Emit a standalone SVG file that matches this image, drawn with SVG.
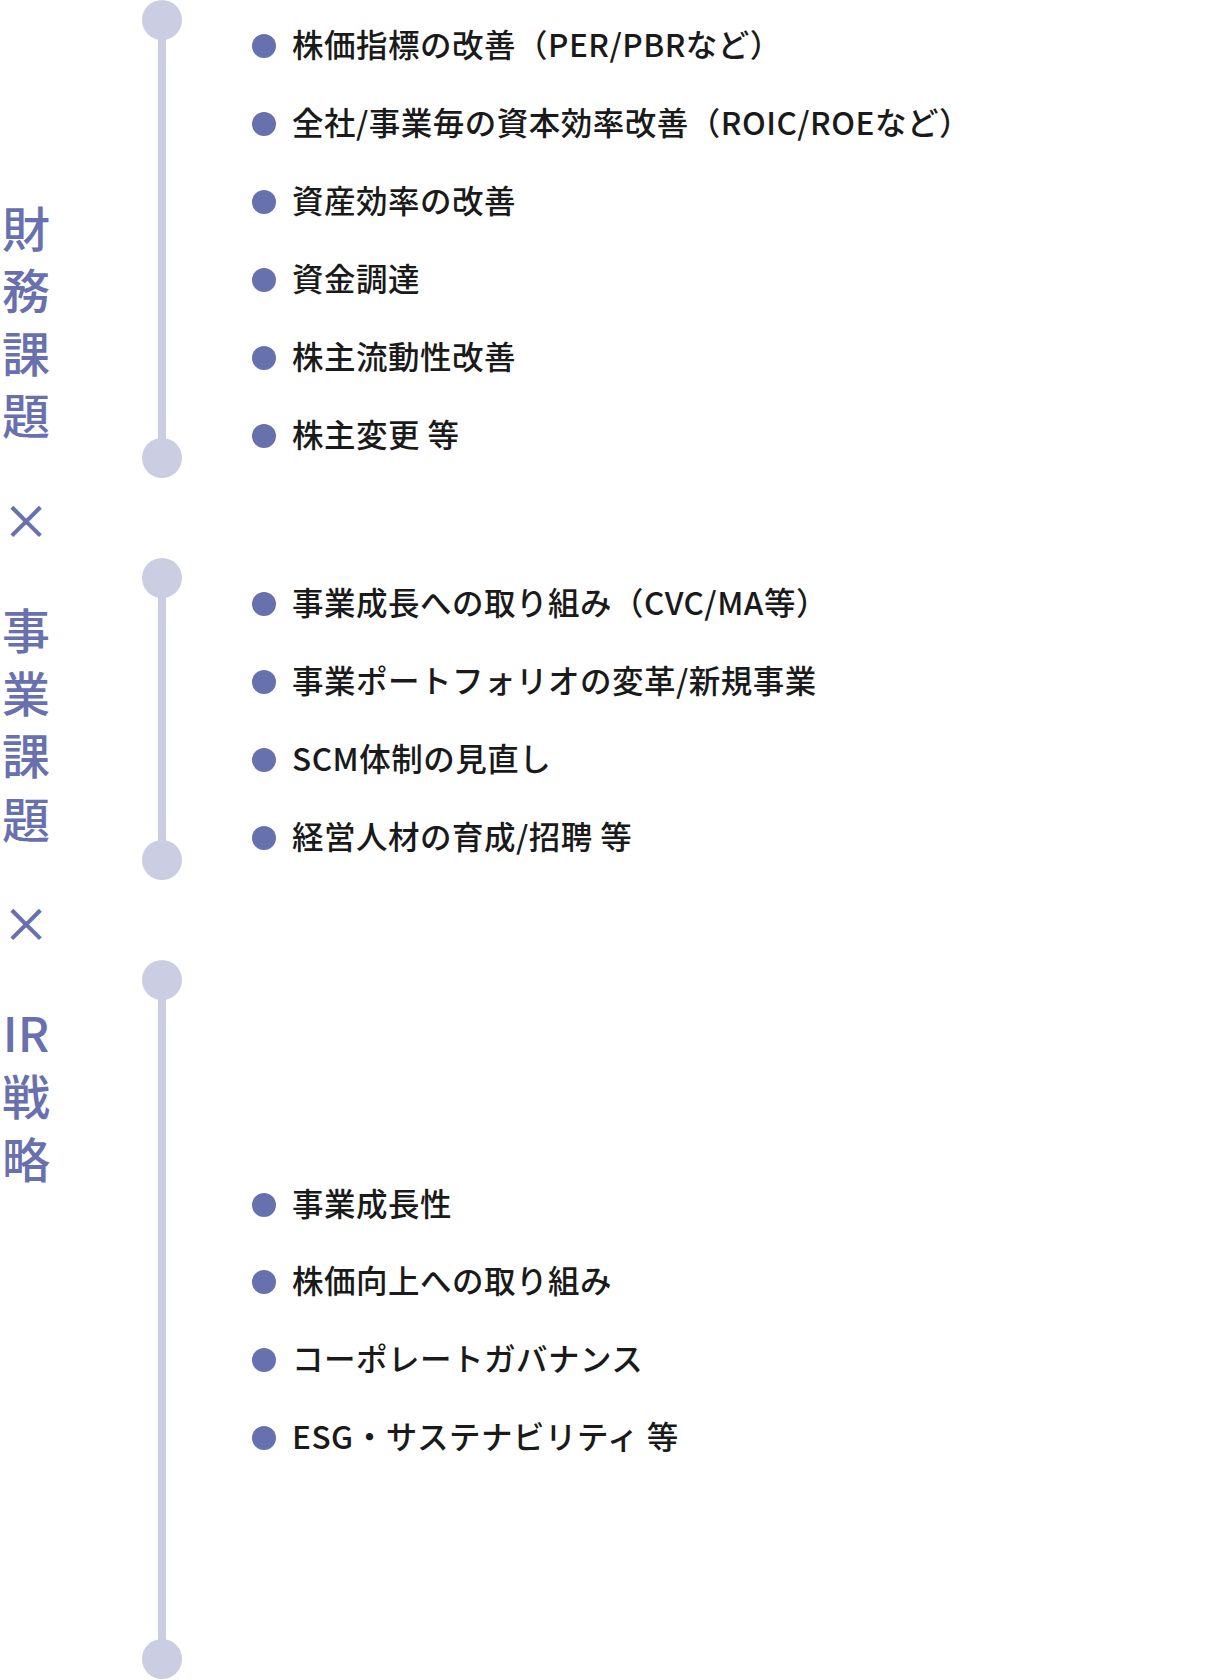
<svg xmlns="http://www.w3.org/2000/svg" width="1212" height="1680" viewBox="0 0 1212 1680">
<style>
.lbl{font-family:"Noto Sans CJK JP","Noto Sans",sans-serif;font-size:48px;font-weight:500;fill:#6870ae;text-anchor:middle}
.item{font-family:"Noto Sans CJK JP","Noto Sans",sans-serif;font-size:31.5px;font-weight:500;fill:#1a1a1a;letter-spacing:0.5px}
.dot{fill:#6771ae}
.knob{fill:#cbcee2}
.rail{stroke:#cbcee2;stroke-width:8}
</style>
<rect width="1212" height="1680" fill="#ffffff"/>
<g id="connectors">
<line class="rail" x1="162" y1="20" x2="162" y2="458"/>
<line class="rail" x1="162" y1="578" x2="162" y2="860"/>
<line class="rail" x1="162" y1="980" x2="162" y2="1659"/>
</g>
<g id="timeline-1">
<circle class="knob" cx="162" cy="20" r="20"/>
<circle class="knob" cx="162" cy="458" r="20"/>
</g>
<g id="timeline-2">
<circle class="knob" cx="162" cy="578" r="20"/>
<circle class="knob" cx="162" cy="860" r="20"/>
</g>
<g id="timeline-3">
<circle class="knob" cx="162" cy="980" r="20"/>
<circle class="knob" cx="162" cy="1659" r="20"/>
</g>
<g id="labels">
<text class="lbl" x="26" y="247">財</text>
<text class="lbl" x="26" y="309">務</text>
<text class="lbl" x="26" y="372">課</text>
<text class="lbl" x="26" y="434">題</text>
<text class="lbl" x="26" y="539">×</text>
<text class="lbl" x="26" y="649">事</text>
<text class="lbl" x="26" y="712">業</text>
<text class="lbl" x="26" y="774">課</text>
<text class="lbl" x="26" y="838">題</text>
<text class="lbl" x="26" y="942">×</text>
<text class="lbl" x="26" y="1052">IR</text>
<text class="lbl" x="26" y="1115">戦</text>
<text class="lbl" x="26" y="1178">略</text>
</g>
<g id="items-finance">
<circle class="dot" cx="264" cy="46" r="12"/><text class="item" x="292" y="57">株価指標の改善（PER/PBRなど）</text>
<circle class="dot" cx="264" cy="124" r="12"/><text class="item" x="292" y="135">全社/事業毎の資本効率改善（ROIC/ROEなど）</text>
<circle class="dot" cx="264" cy="202" r="12"/><text class="item" x="292" y="213">資産効率の改善</text>
<circle class="dot" cx="264" cy="280" r="12"/><text class="item" x="292" y="291">資金調達</text>
<circle class="dot" cx="264" cy="358" r="12"/><text class="item" x="292" y="369">株主流動性改善</text>
<circle class="dot" cx="264" cy="436" r="12"/><text class="item" x="292" y="447">株主変更 等</text>
</g>
<g id="items-business">
<circle class="dot" cx="264" cy="604" r="12"/><text class="item" x="292" y="615">事業成長への取り組み（CVC/MA等）</text>
<circle class="dot" cx="264" cy="682" r="12"/><text class="item" x="292" y="693">事業ポートフォリオの変革/新規事業</text>
<circle class="dot" cx="264" cy="760" r="12"/><text class="item" x="292" y="771">SCM体制の見直し</text>
<circle class="dot" cx="264" cy="838" r="12"/><text class="item" x="292" y="849">経営人材の育成/招聘 等</text>
</g>
<g id="items-ir">
<circle class="dot" cx="264" cy="1205" r="12"/><text class="item" x="292" y="1216">事業成長性</text>
<circle class="dot" cx="264" cy="1282" r="12"/><text class="item" x="292" y="1293">株価向上への取り組み</text>
<circle class="dot" cx="264" cy="1360" r="12"/><text class="item" x="292" y="1371">コーポレートガバナンス</text>
<circle class="dot" cx="264" cy="1438" r="12"/><text class="item" x="292" y="1449">ESG・サステナビリティ 等</text>
</g>
</svg>
